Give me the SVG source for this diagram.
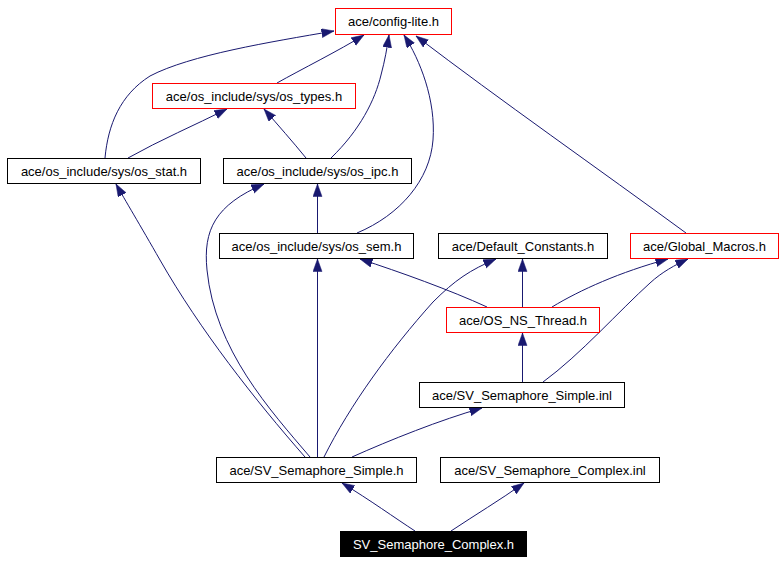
<svg xmlns="http://www.w3.org/2000/svg" width="783" height="563" viewBox="0 0 783 563">
<style>
.n rect{fill:#fff;stroke:#000;stroke-width:1}
.n.r rect{stroke:#ff0000}
.n.root rect{fill:#000;stroke:#000}
.n text{font-family:"Liberation Sans",Arial,sans-serif;font-size:13px;text-anchor:middle;fill:#000}
.n.root text{fill:#fff}
.e path{fill:none;stroke:#191970;stroke-width:1;marker-end:url(#ah)}
</style>
<defs>
<marker id="ah" markerUnits="userSpaceOnUse" markerWidth="14" markerHeight="10" refX="12.5" refY="4.5" orient="auto">
<path d="M0,0 L12.5,4.5 L0,9 z" fill="#191970" stroke="#191970" stroke-width="0.5"/>
</marker>
</defs>
<rect width="783" height="563" fill="#fff"/>
<g id="edges" class="e">
<path d="M277,83 C300,70 340,50 364,35"/>
<path d="M105,158 C108,125 120,95 150,76 C190,55 270,42 334,31"/>
<path d="M331,158 C360,130 375,100 381,75 C385,60 387,48 389,35"/>
<path d="M357,233 C400,215 430,180 433,140 C436,100 420,60 404,35"/>
<path d="M686,233 C600,170 500,100 416,36"/>
<path d="M128,158 C160,140 195,125 227,109"/>
<path d="M306,158 C293,142 278,125 264,109"/>
<path d="M317.5,233 L317.5,184"/>
<path d="M305,457 C255,400 200,330 160,260 C140,225 125,200 116,184"/>
<path d="M310,457 C270,410 215,350 207,270 C203,230 215,205 264,184"/>
<path d="M317.5,457 L317.5,259"/>
<path d="M324,457 C350,405 390,350 433,302 C455,280 470,270 496,259"/>
<path d="M352,457 C390,440 440,420 482,408"/>
<path d="M487,307 C450,290 400,272 360,259"/>
<path d="M522.5,307 L522.5,259"/>
<path d="M552,307 C580,290 620,272 668,259"/>
<path d="M522.5,382 L522.5,333"/>
<path d="M543,382 C580,355 620,310 650,283 C662,272 675,265 688,259"/>
<path d="M415,531 C395,518 370,500 342,483"/>
<path d="M451,531 C475,515 500,500 524,483"/>
</g>
<g id="config-lite" class="n r"><rect x="335.5" y="8.5" width="116" height="26"/><text x="393.5" y="26">ace/config-lite.h</text></g>
<g id="os_types" class="n r"><rect x="152.5" y="83.5" width="203" height="25"/><text x="254" y="100.5">ace/os_include/sys/os_types.h</text></g>
<g id="os_stat" class="n"><rect x="7.5" y="158.5" width="193" height="25"/><text x="104" y="175.5">ace/os_include/sys/os_stat.h</text></g>
<g id="os_ipc" class="n"><rect x="223.5" y="158.5" width="188" height="25"/><text x="317.5" y="175.5">ace/os_include/sys/os_ipc.h</text></g>
<g id="os_sem" class="n"><rect x="219.5" y="233.5" width="194" height="25"/><text x="316.5" y="250.5">ace/os_include/sys/os_sem.h</text></g>
<g id="Default_Constants" class="n"><rect x="438.5" y="233.5" width="169" height="25"/><text x="523" y="250.5">ace/Default_Constants.h</text></g>
<g id="Global_Macros" class="n r"><rect x="630.5" y="233.5" width="148" height="25"/><text x="704.5" y="250.5">ace/Global_Macros.h</text></g>
<g id="OS_NS_Thread" class="n r"><rect x="446.5" y="307.5" width="153" height="25"/><text x="523" y="324.5">ace/OS_NS_Thread.h</text></g>
<g id="SV_Semaphore_Simple_inl" class="n"><rect x="419.5" y="382.5" width="205" height="25"/><text x="522" y="399.5">ace/SV_Semaphore_Simple.inl</text></g>
<g id="SV_Semaphore_Simple_h" class="n"><rect x="216.5" y="457.5" width="200" height="25"/><text x="316.5" y="474.5">ace/SV_Semaphore_Simple.h</text></g>
<g id="SV_Semaphore_Complex_inl" class="n"><rect x="440.5" y="457.5" width="219" height="25"/><text x="550" y="474.5">ace/SV_Semaphore_Complex.inl</text></g>
<g id="SV_Semaphore_Complex_h" class="n root"><rect x="340.5" y="531.5" width="186" height="25"/><text x="433.5" y="548.5">SV_Semaphore_Complex.h</text></g>
</svg>
